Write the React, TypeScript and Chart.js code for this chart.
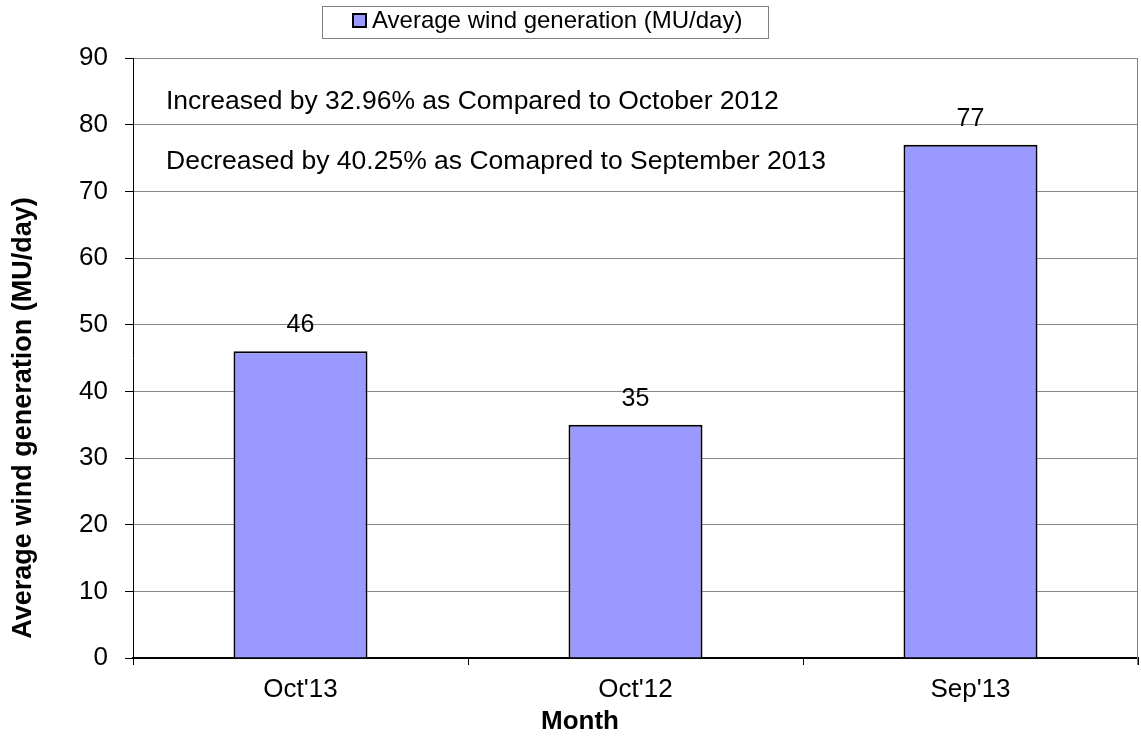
import React, { useEffect, useRef } from "react";
import { Chart, registerables } from "chart.js";

Chart.register(...registerables);

const categories = ["Oct'13", "Oct'12", "Sep'13"];
const windGeneration = [46, 35, 77];
const seriesLabel = "Average wind generation (MU/day)";
const xTitle = "Month";
const yTitle = "Average wind generation (MU/day)";
const notes = [
  "Increased by 32.96% as Compared to October 2012",
  "Decreased by 40.25% as Comapred to September 2013",
];
const noteLevels = [83.5, 74.4];

const FONT = "'Liberation Sans', Arial, sans-serif";

const overlayPlugin = {
  id: "overlay",
  afterDatasetsDraw(chart: any) {
    const { ctx, chartArea } = chart;
    ctx.save();
    // right border
    ctx.strokeStyle = "#808080";
    ctx.lineWidth = 1;
    ctx.beginPath();
    ctx.moveTo(chartArea.right - 0.5, chartArea.top);
    ctx.lineTo(chartArea.right - 0.5, chartArea.bottom + 7);
    ctx.stroke();

    // value labels
    ctx.fillStyle = "#000";
    ctx.font = `25px ${FONT}`;
    ctx.textAlign = "center";
    ctx.textBaseline = "alphabetic";
    const meta = chart.getDatasetMeta(0);
    meta.data.forEach((el: any, i: number) => {
      ctx.fillText(String(chart.data.datasets[0].data[i]), el.x, el.y - 19);
    });

    // notes
    ctx.font = `26.5px ${FONT}`;
    ctx.textAlign = "left";
    ctx.textBaseline = "middle";
    const y = chart.scales.y;
    notes.forEach((t, i) => {
      ctx.fillText(t, chartArea.left + 33, y.getPixelForValue(noteLevels[i]));
    });

    // axis titles
    ctx.font = `bold 26px ${FONT}`;
    ctx.textAlign = "center";
    ctx.fillText(xTitle, 580, 722);
    ctx.save();
    ctx.translate(24, 418);
    ctx.rotate(-Math.PI / 2);
    ctx.font = `bold 27px ${FONT}`;
    ctx.fillText(yTitle, 0, 0);
    ctx.restore();

    // legend
    ctx.strokeStyle = "#808080";
    ctx.lineWidth = 1;
    ctx.strokeRect(322.5, 6.5, 446, 32);
    ctx.fillStyle = "#9999FF";
    ctx.fillRect(353, 14, 13, 13);
    ctx.strokeStyle = "#000";
    ctx.lineWidth = 2;
    ctx.strokeRect(353, 14, 13, 13);
    ctx.fillStyle = "#000";
    ctx.font = `24px ${FONT}`;
    ctx.textAlign = "left";
    ctx.fillText(seriesLabel, 372, 21);
    ctx.restore();
  },
};

export default function App() {
  const ref = useRef<HTMLCanvasElement>(null);
  useEffect(() => {
    document.body.style.margin = "0";
    const chart = new Chart(ref.current!, {
      type: "bar",
      data: {
        labels: categories,
        datasets: [
          {
            label: seriesLabel,
            data: windGeneration,
            backgroundColor: "#9999FF",
            borderColor: "#000",
            borderWidth: 2,
            barPercentage: 0.4,
            categoryPercentage: 1,
          },
        ],
      },
      options: {
        animation: false,
        responsive: false,
        maintainAspectRatio: false,
        layout: { padding: { top: 58, right: 3, left: 0, bottom: 0 } },
        plugins: { legend: { display: false }, tooltip: { enabled: false } },
        scales: {
          x: {
            offset: true,
            afterFit: (axis: any) => {
              axis.height = 78;
            },
            grid: {
              offset: true,
              drawOnChartArea: false,
              drawTicks: true,
              tickLength: 7,
              color: "#000",
            },
            border: { color: "#000", width: 2 },
            ticks: { color: "#000", font: { family: FONT, size: 26 }, padding: 9 },
            title: { display: false },
          },
          y: {
            min: 0,
            max: 90,
            afterFit: (axis: any) => {
              axis.width = 133;
            },
            grid: {
              color: "#888",
              tickColor: "#000",
              tickLength: 8,
              drawTicks: true,
            },
            border: { color: "#000", width: 1 },
            ticks: {
              stepSize: 10,
              color: "#000",
              font: { family: FONT, size: 26 },
              padding: 17,
            },
            title: { display: false },
          },
        },
      },
      plugins: [overlayPlugin],
    });
    return () => chart.destroy();
  }, []);
  return (
    <div style={{ width: 1141, height: 736, background: "#fff" }}>
      <canvas ref={ref} width={1141} height={736} style={{ display: "block" }} />
    </div>
  );
}
